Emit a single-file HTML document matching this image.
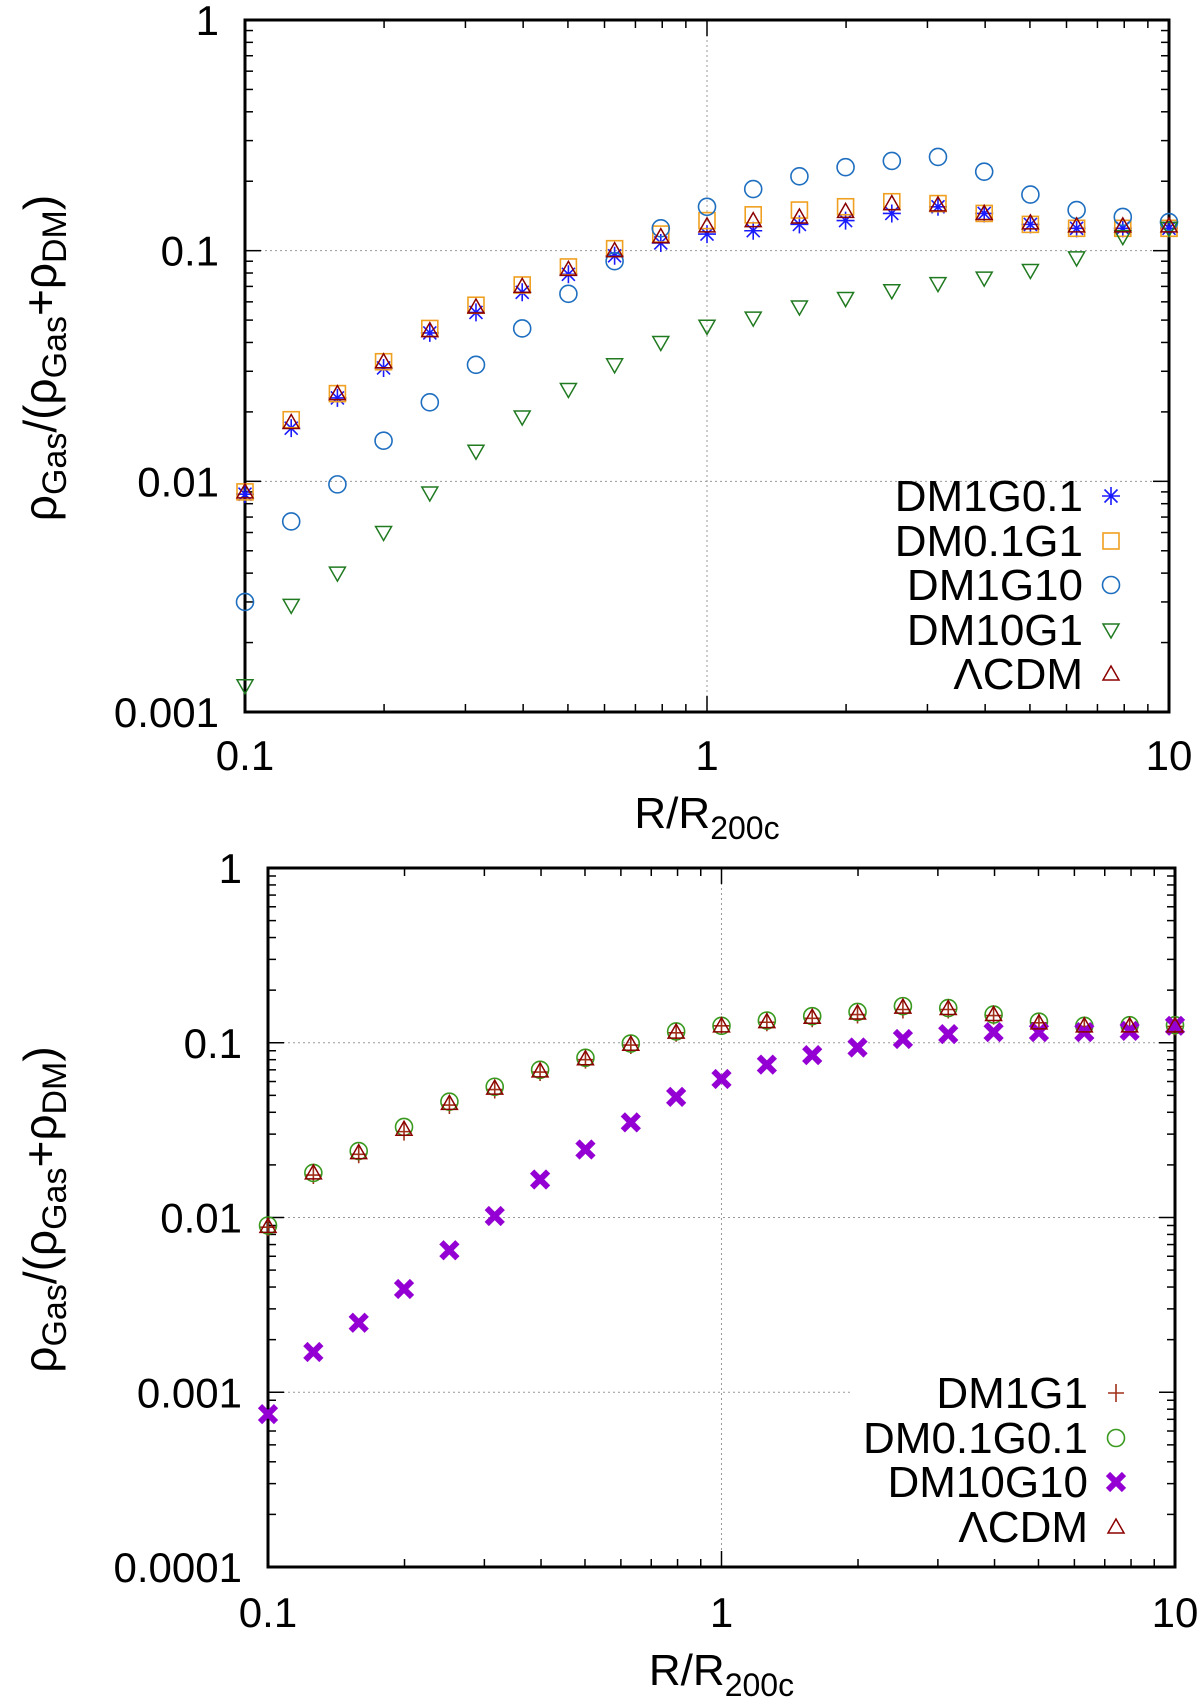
<!DOCTYPE html>
<html><head><meta charset="utf-8"><style>
html,body{margin:0;padding:0;background:#fff;}
svg{display:block;font-family:"Liberation Sans",sans-serif;}
</style></head><body>
<svg id="chart" width="1200" height="1701" viewBox="0 0 1200 1701" xmlns="http://www.w3.org/2000/svg"></svg>
<script>
const categories = [0.1,0.1259,0.1585,0.1995,0.2512,0.3162,0.3981,0.5012,0.631,0.7943,1,1.259,1.585,1.995,2.512,3.162,3.981,5.012,6.31,7.943,10];
const topDM1G01 = [0.0088,0.017,0.023,0.031,0.044,0.054,0.066,0.079,0.095,0.108,0.118,0.122,0.13,0.135,0.145,0.155,0.145,0.13,0.125,0.125,0.125];
const topDM01G1 = [0.009,0.0185,0.024,0.033,0.046,0.058,0.071,0.085,0.102,0.118,0.135,0.143,0.15,0.155,0.163,0.16,0.145,0.13,0.125,0.125,0.125];
const topDM1G10 = [0.003,0.0067,0.0097,0.015,0.022,0.032,0.046,0.065,0.09,0.125,0.155,0.185,0.21,0.23,0.245,0.255,0.22,0.175,0.15,0.14,0.133];
const topDM10G1 = [0.0013,0.0029,0.004,0.006,0.0089,0.0135,0.019,0.025,0.032,0.04,0.047,0.051,0.057,0.062,0.067,0.072,0.076,0.082,0.093,0.115,0.125];
const topLCDM = [0.009,0.018,0.024,0.033,0.045,0.057,0.07,0.083,0.1,0.115,0.128,0.135,0.14,0.148,0.16,0.158,0.145,0.132,0.128,0.128,0.128];
const botDM1G1 = [0.0088,0.0175,0.023,0.031,0.044,0.054,0.068,0.08,0.097,0.114,0.125,0.131,0.138,0.145,0.155,0.155,0.143,0.13,0.124,0.124,0.124];
const botDM01G01 = [0.009,0.018,0.024,0.033,0.046,0.056,0.07,0.082,0.099,0.116,0.125,0.134,0.142,0.15,0.162,0.158,0.145,0.132,0.125,0.126,0.126];
const botDM10G10 = [0.00075,0.0017,0.0025,0.0039,0.0065,0.0102,0.0165,0.0245,0.035,0.049,0.062,0.075,0.085,0.094,0.105,0.112,0.115,0.115,0.115,0.117,0.125];
const botLCDM = [0.0089,0.018,0.0235,0.032,0.045,0.055,0.069,0.081,0.098,0.115,0.125,0.132,0.14,0.148,0.16,0.157,0.145,0.13,0.125,0.125,0.125];
const xTickLabels = ["0.1","1","10"];
const topYTickLabels = ["0.001","0.01","0.1","1"];
const botYTickLabels = ["0.0001","0.001","0.01","0.1","1"];

const NS="http://www.w3.org/2000/svg";
const svg=document.getElementById('chart');
function mk(tag,attrs,parent){const e=document.createElementNS(NS,tag);for(const k in attrs)e.setAttribute(k,attrs[k]);(parent||svg).appendChild(e);return e;}

function marker(g,type,x,y,color){
  const s=9;let e;
  if(type==='star'){e=mk('path',{d:`M${x-s} ${y}H${x+s}M${x} ${y-s}V${y+s}M${x-6.5} ${y-6.5}L${x+6.5} ${y+6.5}M${x-6.5} ${y+6.5}L${x+6.5} ${y-6.5}`,stroke:color,'stroke-width':1.6,fill:'none'},g);}
  else if(type==='square'){e=mk('rect',{x:x-8,y:y-8,width:16,height:16,stroke:color,'stroke-width':1.6,fill:'none'},g);}
  else if(type==='circle'){e=mk('circle',{cx:x,cy:y,r:8.5,stroke:color,'stroke-width':1.6,fill:'none'},g);}
  else if(type==='tdown'){e=mk('path',{d:`M${x-8} ${y-6}L${x+8} ${y-6}L${x} ${y+8}Z`,stroke:color,'stroke-width':1.5,fill:'none'},g);}
  else if(type==='tup'){e=mk('path',{d:`M${x-8} ${y+6}L${x+8} ${y+6}L${x} ${y-8}Z`,stroke:color,'stroke-width':1.5,fill:'none'},g);}
  else if(type==='plus'){e=mk('path',{d:`M${x-8} ${y}H${x+8}M${x} ${y-9}V${y+9}`,stroke:color,'stroke-width':1.6,fill:'none'},g);}
  else if(type==='bigx'){e=mk('path',{d:`M${x-8} ${y-8}L${x+8} ${y+8}M${x-8} ${y+8}L${x+8} ${y-8}`,stroke:color,'stroke-width':6,fill:'none','stroke-linecap':'butt'},g);}
  return e;
}

function panel(cfg){
  const {L,R,T,B,ymin,ymax,yLabels,series,name,legendX,legendRows,xLabelY,gridYs,gridStopX}=cfg;
  const g=mk('g',{});
  
  
  const lx0=Math.log10(0.1),lx1=Math.log10(10);
  const X=v=>L+(Math.log10(v)-lx0)/(lx1-lx0)*(R-L);
  const ly0=Math.log10(ymin),ly1=Math.log10(ymax);
  const Y=v=>B-(Math.log10(v)-ly0)/(ly1-ly0)*(B-T);
  const grid=mk('g',{},g);
  
  
  mk('line',{x1:X(1),x2:X(1),y1:T,y2:B,stroke:'#999','stroke-width':1,'stroke-dasharray':'2,3'},grid);
  gridYs.forEach((v,i)=>{mk('line',{x1:L,x2:(gridStopX&&gridStopX[i])||R,y1:Y(v),y2:Y(v),stroke:'#999','stroke-width':1,'stroke-dasharray':'2,3'},grid);});
  const ticks=mk('g',{},g);
  
  
  for(let d=-1;d<1;d++){for(let m=1;m<10;m++){const v=m*Math.pow(10,d);const x=X(v);const len=m===1?16:8;
    mk('line',{x1:x,x2:x,y1:B,y2:B-len,stroke:'#000','stroke-width':1.5},ticks);
    mk('line',{x1:x,x2:x,y1:T,y2:T+len,stroke:'#000','stroke-width':1.5},ticks);}}
  for(let d=Math.round(ly0);d<Math.round(ly1);d++){for(let m=1;m<10;m++){const v=m*Math.pow(10,d);const y=Y(v);const len=m===1?16:8;
    mk('line',{x1:L,x2:L+len,y1:y,y2:y,stroke:'#000','stroke-width':1.5},ticks);
    mk('line',{x1:R,x2:R-len,y1:y,y2:y,stroke:'#000','stroke-width':1.5},ticks);}}
  const fr=mk('rect',{x:L,y:T,width:R-L,height:B-T,fill:'none',stroke:'#000','stroke-width':3},g);
  
  
  xTickLabels.forEach((t,i)=>{const v=[0.1,1,10][i];const e=mk('text',{x:X(v),y:xLabelY,'font-size':42,'text-anchor':'middle'},g);e.textContent=t;
    
    });
  yLabels.forEach((t,i)=>{const v=ymin*Math.pow(10,i);const e=mk('text',{x:L-26,y:Y(v)+15,'font-size':42,'text-anchor':'end'},g);e.textContent=t;
    
    });
  const xt=mk('text',{x:(L+R)/2,y:xLabelY+58,'font-size':44,'text-anchor':'middle'},g);
  xt.innerHTML='R/R<tspan font-size="32" dy="11">200c</tspan>';
  
  
  const cy=(T+B)/2-8;
  const yt=mk('text',{x:0,y:0,'font-size':46,'text-anchor':'middle',transform:`translate(56,${cy}) rotate(-90)`},g);
  yt.innerHTML='ρ<tspan font-size="34" dy="10">Gas</tspan><tspan dy="-10">/(ρ</tspan><tspan font-size="34" dy="10">Gas</tspan><tspan dy="-10">+ρ</tspan><tspan font-size="34" dy="10">DM</tspan><tspan dy="-10">)</tspan>';
  
  
  series.forEach(s=>{
    const sg=mk('g',{},g);
    
    
    categories.forEach((c,i)=>{const m=marker(sg,s.type,X(c),Y(s.values[i]),s.color);
      
      });
  });
  const lg=mk('g',{},g);
  
  
  series.forEach((s,i)=>{const y=legendRows[i];
    const t=mk('text',{x:legendX,y:y+15,'font-size':44,'text-anchor':'end'},lg);t.textContent=s.label;
    
    
    marker(lg,s.type,legendX+28,y,s.color);
  });
}

panel({name:'top-panel',L:245,R:1169,T:20,B:712,ymin:0.001,ymax:1,yLabels:topYTickLabels,xLabelY:770,
  gridYs:[0.1,0.01],legendX:1083,legendRows:[496,541,585,630,674],
  series:[
    {key:'dm1g0.1',label:'DM1G0.1',type:'star',color:'#1a1aff',values:topDM1G01},
    {key:'dm0.1g1',label:'DM0.1G1',type:'square',color:'#f0a020',values:topDM01G1},
    {key:'dm1g10',label:'DM1G10',type:'circle',color:'#1f6fc0',values:topDM1G10},
    {key:'dm10g1',label:'DM10G1',type:'tdown',color:'#207a20',values:topDM10G1},
    {key:'lcdm',label:'ΛCDM',type:'tup',color:'#8b0000',values:topLCDM}
  ]});
panel({name:'bottom-panel',L:268,R:1175,T:868,B:1567,ymin:0.0001,ymax:1,yLabels:botYTickLabels,xLabelY:1627,
  gridYs:[0.1,0.01,0.001],gridStopX:[null,null,850],legendX:1088,legendRows:[1393,1438,1482,1527],
  series:[
    {key:'dm1g1',label:'DM1G1',type:'plus',color:'#a0301a',values:botDM1G1},
    {key:'dm0.1g0.1',label:'DM0.1G0.1',type:'circle',color:'#3a9a20',values:botDM01G01},
    {key:'dm10g10',label:'DM10G10',type:'bigx',color:'#9400d3',values:botDM10G10},
    {key:'lcdm',label:'ΛCDM',type:'tup',color:'#8b0000',values:botLCDM}
  ]});
</script>
</body></html>
